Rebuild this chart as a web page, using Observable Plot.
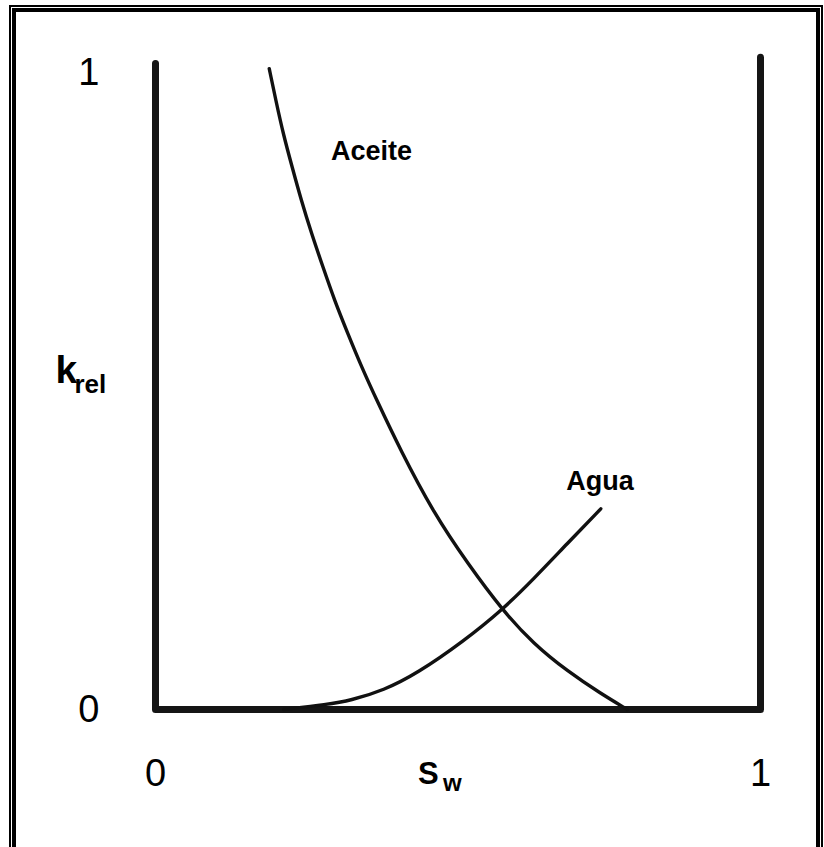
<!DOCTYPE html>
<html>
<head>
<meta charset="utf-8">
<script src="https://cdn.jsdelivr.net/npm/d3@7"></script>
<script src="https://cdn.jsdelivr.net/npm/@observablehq/plot@0.6"></script>
<style>
  html, body { margin: 0; padding: 0; background: #fff; }
  #wrap { position: relative; width: 824px; height: 847px; overflow: hidden; background: #fff; }
  #chart { position: absolute; left: 0; top: 0; }
  #border {
    position: absolute; left: 12px; top: 8px; width: 808px; height: 845px;
    box-sizing: border-box; border: 4px solid #000;
    box-shadow: 0 0 0 1px #fff, 0 0 0 3px #000;
    pointer-events: none;
  }
</style>
</head>
<body>
<div id="wrap"><div id="chart"></div><div id="border"></div></div>
<script>
// Axis tick values
const xTicks = [0, 1];
const yTicks = [0, 1];

// Frame (axes drawn as a path): Sw, krel
const frameSw = [0, 0, 1, 1];
const frameK  = [1.014, 0, 0, 1.024];

// Aceite (oil) relative permeability curve
const aceiteSw = [0.188, 0.199, 0.211, 0.226, 0.241, 0.258, 0.277, 0.296, 0.318, 0.341, 0.366, 0.405, 0.460, 0.516, 0.574, 0.625, 0.681, 0.736, 0.780];
const aceiteK  = [1.006, 0.956, 0.904, 0.851, 0.799, 0.747, 0.694, 0.642, 0.590, 0.537, 0.485, 0.407, 0.308, 0.229, 0.155, 0.103, 0.060, 0.025, 0.000];

// Agua (water) relative permeability curve
const aguaSw = [0.212, 0.284, 0.322, 0.377, 0.433, 0.509, 0.574, 0.625, 0.681, 0.736];
const aguaK  = [0.000, 0.008, 0.014, 0.030, 0.057, 0.107, 0.157, 0.205, 0.261, 0.315];

// Curve labels
const curveNames = ["Aceite", "Agua"];
const curveLabelSw = [0.290, 0.679];
const curveLabelK  = [0.893, 0.375];

const frame = frameSw.map((x, i) => ({x, y: frameK[i]}));
const aceite = aceiteSw.map((x, i) => ({x, y: aceiteK[i]}));
const agua = aguaSw.map((x, i) => ({x, y: aguaK[i]}));
const labels = curveNames.map((t, i) => ({t, x: curveLabelSw[i], y: curveLabelK[i]}));

const ink = "#111";

const plot = Plot.plot({
  width: 824,
  height: 847,
  marginLeft: 155,
  marginRight: 64,
  marginTop: 72,
  marginBottom: 138,
  x: {domain: [0, 1]},
  y: {domain: [0, 1]},
  style: {fontFamily: "'Liberation Sans', Arial, Helvetica, sans-serif", color: "#000", background: "transparent", overflow: "visible"},
  marks: [
    Plot.axisY({ticks: yTicks, tickSize: 0, tickPadding: 56, fontSize: 38, label: null, tickFormat: d => String(d)}),
    Plot.axisX({ticks: xTicks, tickSize: 0, tickPadding: 50, fontSize: 38, label: null, tickFormat: d => String(d)}),
    Plot.line(frame, {x: "x", y: "y", stroke: "#151515", strokeWidth: 7, strokeLinejoin: "round", strokeLinecap: "round"}),
    Plot.line(aceite, {x: "x", y: "y", stroke: ink, strokeWidth: 3.4, curve: "basis", strokeLinecap: "round"}),
    Plot.line(agua, {x: "x", y: "y", stroke: ink, strokeWidth: 3.4, curve: "basis", strokeLinecap: "round"}),
    Plot.text(labels, {x: "x", y: "y", text: "t", textAnchor: "start", lineAnchor: "top", fontSize: 27, fontWeight: "bold", fill: "#000"}),
    // axis label S_w
    Plot.text(["S"], {frameAnchor: "bottom", text: d => d, textAnchor: "start", lineAnchor: "top", dx: -40, dy: 52, fontSize: 31, fontWeight: "bold", fill: "#000"}),
    Plot.text(["w"], {frameAnchor: "bottom", text: d => d, textAnchor: "start", lineAnchor: "top", dx: -15, dy: 64, fontSize: 24, fontWeight: "bold", fill: "#000"}),
    // axis label k_rel
    Plot.text(["k"], {frameAnchor: "left", text: d => d, textAnchor: "start", lineAnchor: "top", dx: -100, dy: -36, fontSize: 39, fontWeight: "bold", fill: "#000"}),
    Plot.text(["rel"], {frameAnchor: "left", text: d => d, textAnchor: "start", lineAnchor: "top", dx: -81, dy: -16, fontSize: 26, fontWeight: "bold", fill: "#000"})
  ]
});
document.getElementById("chart").appendChild(plot);
</script>
</body>
</html>
